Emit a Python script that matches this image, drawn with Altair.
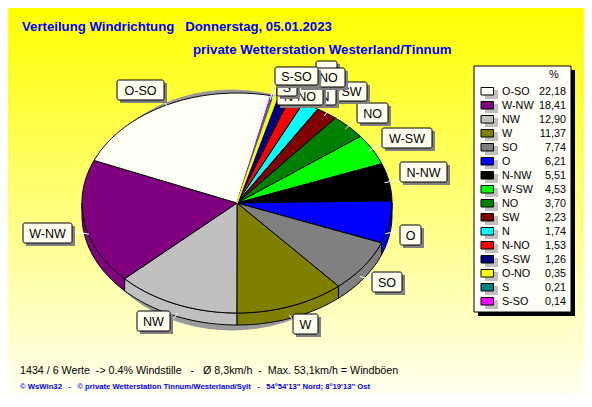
import numpy as np
import pandas as pd
import altair as alt

# ---- data
names = ["O-SO","W-NW","NW","W","SO","O","N-NW","W-SW","NO","SW","N","N-NO","S-SW","O-NO","S","S-SO"]
values = [22.18,18.41,12.90,11.37,7.74,6.21,5.51,4.53,3.70,2.23,1.74,1.53,1.26,0.35,0.21,0.14]
value_labels = ["22,18","18,41","12,90","11,37","7,74","6,21","5,51","4,53","3,70","2,23","1,74","1,53","1,26","0,35","0,21","0,14"]
colors = ["#FFFFF6","#800080","#C0C0C0","#808000","#808080","#0000FF","#000000","#00FF00",
          "#008000","#800000","#00FFFF","#FF0000","#000080","#FFFF00","#008080","#FF00FF"]

title1 = "Verteilung Windrichtung\u00a0\u00a0\u00a0Donnerstag, 05.01.2023"
title2 = "private Wetterstation Westerland/Tinnum"
info = "1434 / 6 Werte\u00a0\u00a0-> 0.4% Windstille\u00a0\u00a0\u00a0-\u00a0\u00a0\u00a0Ø 8,3km/h\u00a0\u00a0-\u00a0\u00a0Max. 53,1km/h = Windböen"
foot = "© WsWin32\u00a0\u00a0\u00a0-\u00a0\u00a0\u00a0© private Wetterstation Tinnum/Westerland/Sylt\u00a0\u00a0\u00a0-\u00a0\u00a0\u00a054°54'13\" Nord; 8°19'13\" Ost"

# ---- layout (page pixels)
CX, CY, RX, RY, DEPTH = 237, 203, 155, 110, 12
START = 12.6
XMAX, YMAX = 584, 394
boxes = {  # x0,y0,x1,y1
 "O-SO":(117,80,164,100),"W-NW":(23,223,72,243),"NW":(137,311,170,331),"W":(293,314,318,334),
 "SO":(372,272,402,292),"O":(400,225,421,245),"N-NW":(400,162,447,182),"W-SW":(382,128,432,148),
 "NO":(357,103,388,123),"SW":(336,82,367,101),"N":(314,87,336,105),"S-SW":(316,61,337,88),
 "S":(277,78,297,96),"N-NO":(277,87,323,105),"O-NO":(298,68,345,87),"S-SO":(275,67,318,85),
}
draw_order = ["O-SO","W-NW","NW","W","SO","O","N-NW","W-SW","NO","SW","S-SW","N","N-NO","S","O-NO","S-SO"]

X = lambda f="x": alt.X(f"{f}:Q", scale=alt.Scale(domain=[8,XMAX], nice=False, zero=False), axis=None)
Y = lambda f="y": alt.Y(f"{f}:Q", scale=alt.Scale(domain=[YMAX,8], nice=False, zero=False), axis=None)
X2 = alt.X2("x1:Q"); Y2 = alt.Y2("y1:Q")

# ---- wedge geometry derived from the values
order = list(range(len(names)))[::-1]
total = sum(values)
faces, walls, leaders, thin = [], [], [], []
ang = START
for idx in order:
    sweep = values[idx] / total * 360
    a = np.radians(np.linspace(ang, ang + sweep, max(2, int(sweep / 1.5) + 2)))
    xs, ys = CX + RX*np.sin(a), CY - RY*np.cos(a)
    name = names[idx]
    pts = [(CX, CY)] + list(zip(xs, ys)) + [(CX, CY)]
    rows = [dict(s=name, i=k, x=p[0], y=p[1]) for k, p in enumerate(pts)]
    faces += rows
    if values[idx] < 0.5:
        thin += rows
    # outer wall for the near half only
    lo, hi = max(ang, 90), min(ang + sweep, 270)
    if hi > lo:
        w = np.radians(np.linspace(lo, hi, max(2, int((hi-lo)/1.5) + 2)))
        wx, wy = CX + RX*np.sin(w), CY - RY*np.cos(w)
        poly = list(zip(wx, wy)) + list(zip(wx[::-1], wy[::-1] + DEPTH)) + [(wx[0], wy[0])]
        walls += [dict(s=name, i=k, x=p[0], y=p[1]) for k, p in enumerate(poly)]
    mid = np.radians(ang + sweep/2)
    b = boxes[name]
    ex, ey = np.clip(CX + (RX+30)*np.sin(mid), b[0], b[2]), np.clip(CY - (RY+30)*np.cos(mid), b[1], b[3])
    leaders.append(dict(x=CX + 0.97*RX*np.sin(mid), y=CY - 0.97*RY*np.cos(mid) + (DEPTH if 90 < np.degrees(mid) < 270 else 0), x1=ex, y1=ey))
    ang += sweep

cscale = alt.Scale(domain=names, range=colors)
fill = alt.Fill("s:N", scale=cscale, legend=None)
def poly_layer(rows):
    return alt.Chart(pd.DataFrame(rows)).mark_line(stroke="black", strokeWidth=1, interpolate="linear", clip=False).encode(
        x=X(), y=Y(), fill=fill, detail="s:N", order="i:Q")

# background
bg = alt.Chart(pd.DataFrame({"x":[8],"x1":[XMAX],"y":[8],"y1":[YMAX]})).mark_rect(
    fill=alt.LinearGradient(gradient="linear", x1=0, x2=0, y1=0, y2=1,
        stops=[alt.GradientStop(offset=0, color="#FFFF00"), alt.GradientStop(offset=1, color="#FFFFF0")])
).encode(x=X(), x2=X2, y=Y(), y2=Y2)

# pie shadow
t = np.radians(np.arange(0, 361, 3))
shadow = alt.Chart(pd.DataFrame({"x":232+145*np.sin(t),"y":210-119.5*np.cos(t),"i":np.arange(len(t))})).mark_line(
    fill="#9A9A9A", stroke="#9A9A9A").encode(x=X(), y=Y(), order="i:Q")

thin_layer = alt.Chart(pd.DataFrame(thin)).mark_line(strokeWidth=1.2, interpolate="linear").encode(
    x=X(), y=Y(), fill=fill, stroke=alt.Stroke("s:N", scale=cscale, legend=None), detail="s:N", order="i:Q")

rule_layer = alt.Chart(pd.DataFrame(leaders)).mark_rule(color="white", strokeWidth=1).encode(x=X(), x2=X2, y=Y(), y2=Y2)

layers = [bg, shadow, poly_layer(walls), poly_layer(faces), thin_layer, rule_layer]

def box_layers(name):
    b = boxes[name]
    d = pd.DataFrame([dict(x=b[0], y=b[1], x1=b[2], y1=b[3], sx=b[0]+3, sy=b[1]+3, sx1=b[2]+3, sy1=b[3]+3,
                           tx=(b[0]+b[2])/2, ty=(b[1]+b[3])/2+0.5, label=name)])
    base = alt.Chart(d)
    return [
        base.mark_rect(fill="#808080").encode(x=X("sx"), x2=alt.X2("sx1:Q"), y=Y("sy"), y2=alt.Y2("sy1:Q")),
        base.mark_rect(fill="#FFFFF0", stroke="black", strokeWidth=1, cornerRadius=2).encode(x=X(), x2=X2, y=Y(), y2=Y2),
        base.mark_text(font="Liberation Sans", fontSize=12.5, color="black", baseline="middle", align="center").encode(
            x=X("tx"), y=Y("ty"), text="label:N"),
    ]
for n in draw_order:
    layers += box_layers(n)

# legend
lg_frame = pd.DataFrame([dict(x=474,y=66,x1=571,y1=312,sx=478,sy=70,sx1=575,sy1=316)])
layers += [
    alt.Chart(lg_frame).mark_rect(fill="black").encode(x=X("sx"), x2=alt.X2("sx1:Q"), y=Y("sy"), y2=alt.Y2("sy1:Q")),
    alt.Chart(lg_frame).mark_rect(fill="#FFFFF8", stroke="black", strokeWidth=1).encode(x=X(), x2=X2, y=Y(), y2=Y2),
]
rows_y = [91 + 14*i for i in range(len(names))]
lg = pd.DataFrame(dict(s=names, v=value_labels, yc=rows_y))
lg["x"], lg["x1"] = 481, 493.5
lg["y"], lg["y1"] = lg.yc-3.5, lg.yc+4
lg["sx"], lg["sx1"] = 485, 498
lg["sy"], lg["sy1"] = lg.yc-1, lg.yc+8
lg["tx"], lg["vx"] = 502, 566
lg["ty"] = lg.yc + 0.7
layers += [
    alt.Chart(lg).mark_rect(fill="#C0C0C0").encode(x=X("sx"), x2=alt.X2("sx1:Q"), y=Y("sy"), y2=alt.Y2("sy1:Q")),
    alt.Chart(lg).mark_rect(stroke="black", strokeWidth=1).encode(x=X(), x2=X2, y=Y(), y2=Y2, fill=fill),
    alt.Chart(lg).mark_text(font="Liberation Sans", fontSize=10.8, align="left", baseline="middle", color="black").encode(
        x=X("tx"), y=Y("ty"), text="s:N"),
    alt.Chart(lg).mark_text(font="Liberation Sans", fontSize=10.8, align="right", baseline="middle", color="black").encode(
        x=X("vx"), y=Y("ty"), text="v:N"),
]

def text_layer(txt, x, y, **kw):
    return alt.Chart(pd.DataFrame({"x":[x],"y":[y],"t":[txt]})).mark_text(
        font="Liberation Sans", align="left", baseline="middle", **kw).encode(x=X(), y=Y(), text="t:N")

layers += [
    text_layer("%", 549, 75, fontSize=11, color="black"),
    text_layer(title1, 22, 27, fontSize=13.2, fontWeight="bold", color="#0000FF"),
    text_layer(title2, 193, 50, fontSize=13.3, fontWeight="bold", color="#0000FF"),
    text_layer(info, 20, 370.5, fontSize=10.7, color="black"),
    text_layer(foot, 20, 387, fontSize=7.7, fontWeight="bold", color="#0000FF"),
]

chart = alt.layer(*layers).properties(width=XMAX-8, height=YMAX-8, padding=0,
    autosize=alt.AutoSizeParams(type="none")).configure_view(stroke=None)
chart.save("out.html", embed_options={"renderer": "svg", "actions": False})
